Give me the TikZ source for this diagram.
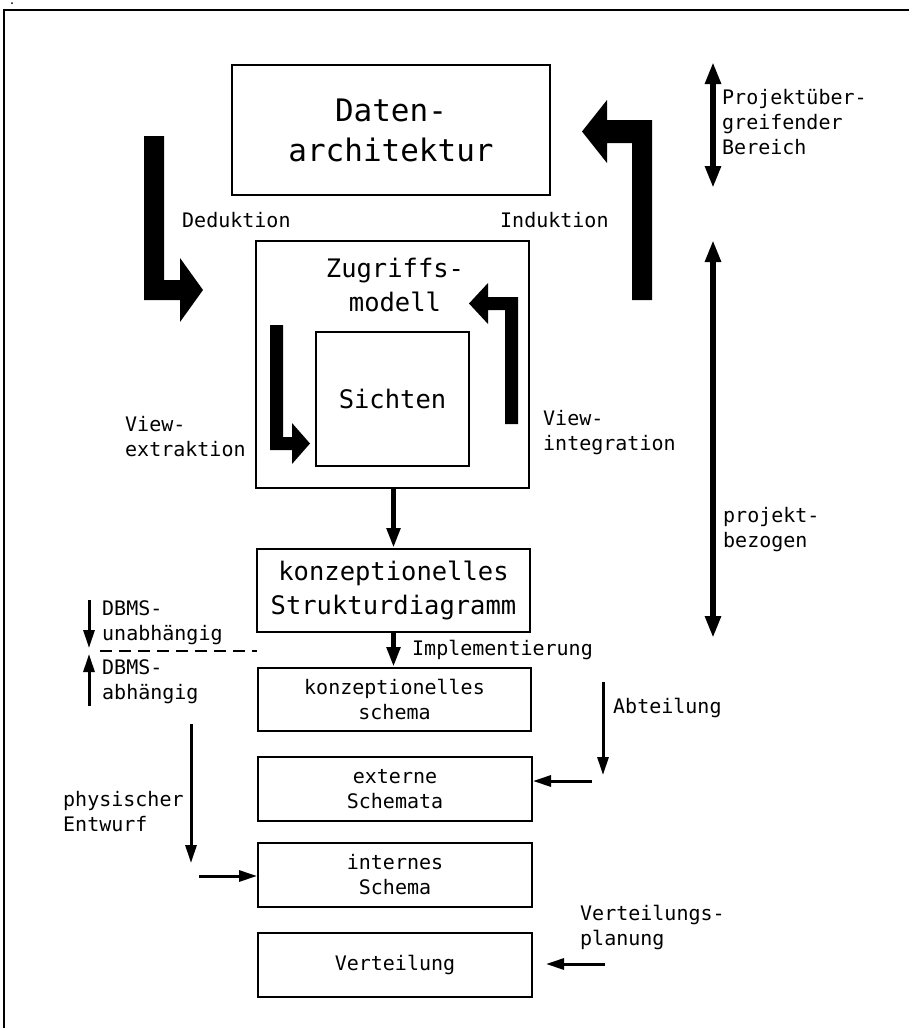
\documentclass[tikz,border=0pt]{standalone}
\usepackage{fontspec}
\newfontfamily\tw{DejaVu Sans Mono}
\usetikzlibrary{arrows.meta}
\begin{document}
\begin{tikzpicture}[x=1pt,y=-1pt,
  box/.style={draw, line width=2pt, inner sep=0pt, align=center, anchor=center},
  big/.style={font=\tw\fontsize{31}{40}\selectfont},
  mid/.style={font=\tw\fontsize{25.5}{34}\selectfont},
  sml/.style={font=\tw\fontsize{20}{25}\selectfont},
  lbl/.style={sml, anchor=west, align=left, inner sep=0pt},
  blk/.style={fill=black, draw=none},
  thinarr/.style={line width=3pt, -{Triangle[length=18pt,width=11pt]}},
  midarr/.style={line width=5pt, -{Triangle[length=20pt,width=13pt]}},
  dblarr/.style={line width=6pt, {Triangle[length=22pt,width=15pt]}-{Triangle[length=22pt,width=15pt]}}
]
\useasboundingbox (0,0) rectangle (909,1028);
% frame
\draw[line width=1.5pt] (4,1028) -- (4,10) -- (909,10);
\fill (12,3) circle (1);

% boxes
\node[box, big, minimum width=318pt, minimum height=130pt] (daten) at (391,130) {Daten-\\architektur};
\node[box, minimum width=273pt, minimum height=247pt] (zm) at (392.5,364.5) {};
\node[mid, align=center, inner sep=0pt] (zmt) at (395,285) {Zugriffs-\\modell};
\node[box, mid, minimum width=153pt, minimum height=134pt] (sichten) at (392.5,399) {Sichten};
\node[box, mid, minimum width=273pt, minimum height=83pt] (struk) at (393.5,590.5) {konzeptionelles\\Strukturdiagramm};
\node[box, sml, minimum width=273pt, minimum height=63pt] (ks) at (394.5,699.5) {konzeptionelles\\schema};
\node[box, sml, minimum width=274pt, minimum height=64pt] (ext) at (395,789) {externe\\Schemata};
\node[box, sml, minimum width=274pt, minimum height=64pt] (int) at (395,875) {internes\\Schema};
\node[box, sml, minimum width=274pt, minimum height=64pt] (vert) at (395,965) {Verteilung};

% block arrows
\fill[blk] (144,136) -- (164,136) -- (164,280) -- (180,280) -- (180,258) -- (203,290) -- (180,322) -- (180,300) -- (144,300) -- cycle;
\fill[blk] (652,300) -- (632,300) -- (632,143) -- (607,143) -- (607,163) -- (582,131.5) -- (607,100) -- (607,120) -- (652,120) -- cycle;
\fill[blk] (270,325) -- (283,325) -- (283,437) -- (292,437) -- (292,423) -- (310,443.5) -- (292,464) -- (292,450) -- (270,450) -- cycle;
\fill[blk] (518,424) -- (505,424) -- (505,310) -- (488,310) -- (488,324) -- (469,303.5) -- (488,283) -- (488,297) -- (518,297) -- cycle;

% labels
\node[lbl] (ded) at (182,220) {Deduktion};
\node[lbl] (ind) at (500,220) {Induktion};
\node[lbl] (vex) at (125,437) {View-\\extraktion};
\node[lbl] (vin) at (543,433) {View-\\integration};
\node[lbl] (pub) at (722,122) {Projektüber-\\greifender\\Bereich};
\node[lbl] (pbz) at (723,530) {projekt-\\bezogen};
\node[lbl] (impl) at (412,650) {Implementierung};
\node[lbl] (abt) at (613,708) {Abteilung};
\node[lbl] (phys) at (63,812) {physischer\\Entwurf};
\node[lbl] (vplan) at (580,927) {Verteilungs-\\planung};
\node[lbl] (dbu) at (102,623) {DBMS-\\unabhängig};
\node[lbl] (dba) at (102,682) {DBMS-\\abhängig};

% coordinates
\coordinate (abtS) at (603,682);
\coordinate (abtE) at (603,775);
\coordinate (extS) at (592,781);
\coordinate (phS) at (191,724);
\coordinate (phE) at (191,863);
\coordinate (intS) at (199,876);
\coordinate (vS) at (605,964);
\coordinate (vE) at (546,964);
\coordinate (dl1) at (100,651);
\coordinate (dl2) at (257,651);
\coordinate (d1s) at (89,600);
\coordinate (d1e) at (89,648);
\coordinate (d2s) at (89,706);
\coordinate (d2e) at (89,654);
\coordinate (r1a) at (713,62);
\coordinate (r1b) at (713,188);
\coordinate (r2a) at (713,240);
\coordinate (r2b) at (713,638);

% connectors
\draw[midarr] (zm.south -| struk.north) -- (struk.north);
\draw[midarr] (struk.south) -- (struk.south |- ks.north);
\draw[thinarr] (abtS) -- (abtE);
\draw[thinarr] (extS) -- (extS -| ext.east);
\draw[thinarr] (phS) -- (phE);
\draw[thinarr] (intS) -- (intS -| int.west);
\draw[thinarr] (vS) -- (vE);
\draw[thinarr] (d1s) -- (d1e);
\draw[thinarr] (d2s) -- (d2e);
\draw[line width=1.5pt, dash pattern=on 12pt off 7pt] (dl1) -- (dl2);
\draw[dblarr] (r1a) -- (r1b);
\draw[dblarr] (r2a) -- (r2b);
\end{tikzpicture}
\end{document}
